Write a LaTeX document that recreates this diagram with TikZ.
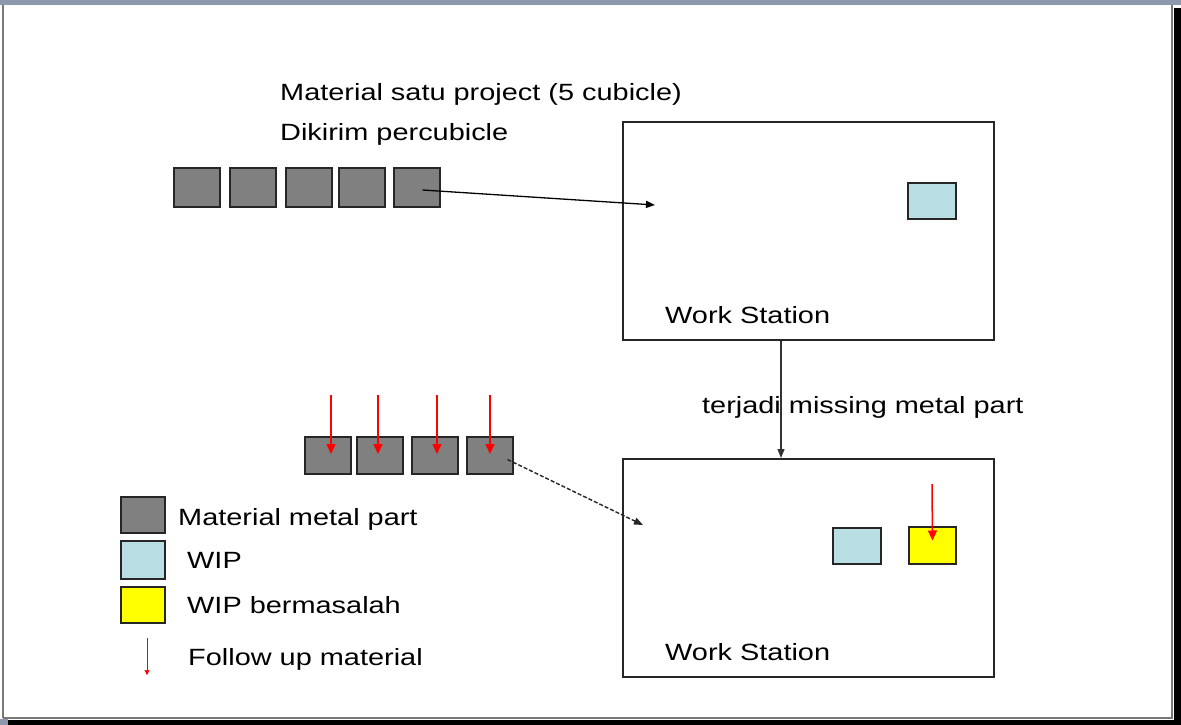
\documentclass[tikz,border=0pt]{standalone}
\usepackage{fontspec}
\setmainfont[FakeStretch=1.23]{Liberation Sans}
\usetikzlibrary{arrows.meta,calc}

\definecolor{partgrey}{RGB}{128,128,128}
\definecolor{wipblue}{RGB}{185,223,228}
\definecolor{probyellow}{RGB}{255,255,0}
\definecolor{framebar}{RGB}{140,152,172}
\definecolor{edgegrey}{RGB}{120,120,120}

\tikzset{
  part/.style={draw=black!85, line width=2pt, fill=partgrey, inner sep=0pt,
               minimum width=46, minimum height=39},
  wip/.style={draw=black!85, line width=2pt, fill=wipblue, inner sep=0pt,
              minimum width=48, minimum height=36},
  problem/.style={draw=black!85, line width=2pt, fill=probyellow, inner sep=0pt,
                  minimum width=47, minimum height=37},
  station/.style={draw=black!85, line width=2pt, inner sep=0pt,
                  minimum width=371, minimum height=218},
  label/.style={font=\fontsize{23.5}{28}\selectfont, inner sep=0pt, anchor=base west},
  flow/.style={draw=black, line width=1.3pt, -{Triangle[length=9pt,width=7pt]}},
  followup/.style={draw=red, line width=1.5pt, -{Triangle[length=10pt,width=9pt]}},
}

\begin{document}
\begin{tikzpicture}[x=1pt,y=-1pt]
  \useasboundingbox (0,0) rectangle (1181,725);
  \fill[white] (0,0) rectangle (1181,725);

  % window frame
  \fill[framebar] (0,0) rectangle (1181,5);
  \draw[edgegrey, line width=2pt] (3,5) -- (3,718);
  \draw[edgegrey, line width=1.5pt] (1172,5) -- (1172,718) -- (3,718);
  \fill[black] (1174,8) rectangle (1181,725);
  \fill[black] (8,720) rectangle (1181,725);
  \fill[framebar] (0,719) rectangle (8,725);

  % titles
  \node[label] (title1) at (280,100) {Material satu project (5 cubicle)};
  \node[label] (title2) at (280,140) {Dikirim percubicle};

  % material for one project, five cubicles
  \node[part] (p1) at (196.5,187) {};
  \node[part] (p2) at (253,187) {};
  \node[part] (p3) at (308.5,187) {};
  \node[part] (p4) at (362,187) {};
  \node[part] (p5) at (416.5,187) {};

  % upper work station
  \node[station] (ws1) at (808.5,231) {};
  \node[label] (ws1lbl) at (665,323) {Work Station};
  \node[wip] (wip1) at (932,201) {};

  \coordinate (in1) at (655,205);
  \draw[flow] (p5.center) ++(6,3) coordinate (out1) (out1) -- (in1);

  % lower work station
  \node[station] (ws2) at (808.5,568) {};
  \node[label] (ws2lbl) at (665,660) {Work Station};
  \node[wip] (wip2) at (857,545.5) {};
  \node[problem] (bad) at (932.5,545.5) {};
  \coordinate (badtop) at (932,484);
  \draw[followup] (badtop) -- ($(bad.center)+(0,-5)$);

  % transition between stations
  \draw[draw=black!80, line width=1.2pt, -{Triangle[length=9pt,width=7pt]}]
    (ws1.south -| 781,0) -- (ws2.north -| 781,0);
  \node[label] (miss) at (702,413) {terjadi missing metal part};

  % remaining metal parts, followed up
  \node[part, minimum height=37] (q1) at (327.5,455.5) {};
  \node[part, minimum height=37] (q2) at (380,455.5) {};
  \node[part, minimum height=37] (q3) at (435,455.5) {};
  \node[part, minimum height=37] (q4) at (489.5,455.5) {};
  \foreach \q/\x in {q1/331,q2/378,q3/437,q4/490}{
    \coordinate (\q top) at (\x,395);
    \draw[followup] (\q top) -- (\x,454);
  }
  \coordinate (in2) at (643,525);
  \draw[draw=black!85, line width=1.4pt, dash pattern=on 4pt off 2pt,
        -{Triangle[length=9pt,width=7pt]}] ($(q4.center)+(18,4)$) -- (in2);

  % legend
  \node[part, minimum width=44, minimum height=36] (lg1) at (143,515) {};
  \node[wip, minimum width=44, minimum height=38] (lg2) at (143,560) {};
  \node[problem, minimum width=44, minimum height=36] (lg3) at (143,605) {};
  \coordinate (lg4top) at (147,638);
  \coordinate (lg4bot) at (147,675);
  \draw[draw=red, line width=0.6pt, -{Triangle[length=5pt,width=5pt]}] (lg4top) -- (lg4bot);
  \node[label] (lt1) at (178,525) {Material metal part};
  \node[label] (lt2) at (187,568) {WIP};
  \node[label] (lt3) at (187,613) {WIP bermasalah};
  \node[label] (lt4) at (188,665) {Follow up material};
\end{tikzpicture}
\end{document}
